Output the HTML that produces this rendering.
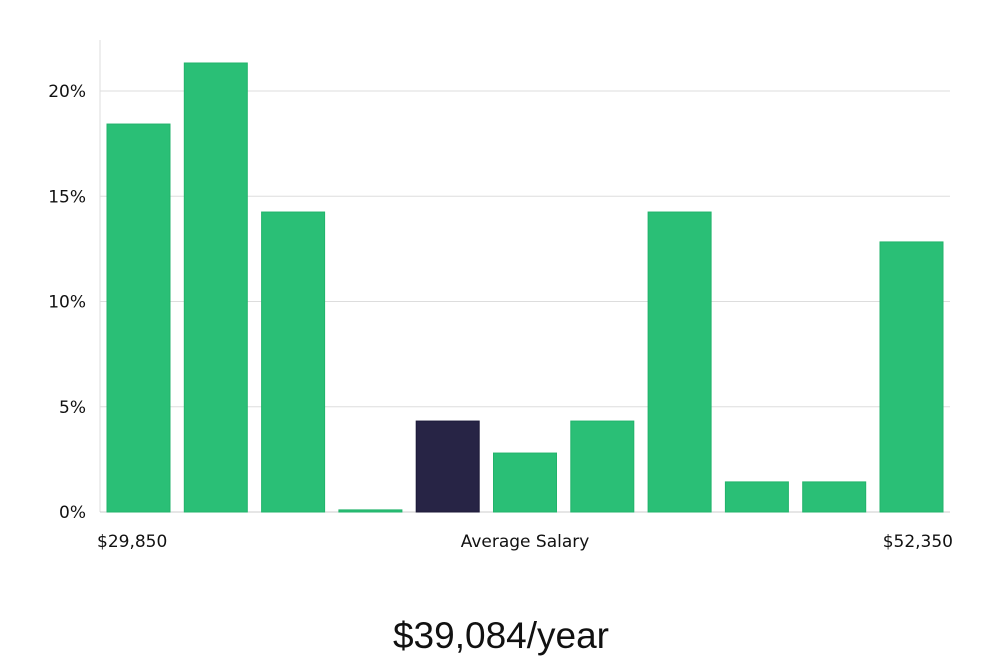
<!DOCTYPE html>
<html><head><meta charset="utf-8"><style>
body{margin:0;background:#fff;width:1000px;height:660px;overflow:hidden;font-family:"DejaVu Sans","Liberation Sans",sans-serif;}
</style></head><body>
<svg width="1000" height="660">
<g id="grid"></g><g id="bars"></g><g id="labels"></g>
<text x="501" y="648" text-anchor="middle" font-size="37" font-family="'Liberation Sans',sans-serif" font-weight="300" fill="#111">$39,084/year</text>
</svg>
<script>
const categories=["b1","b2","b3","b4","b5","b6","b7","b8","b9","b10","b11"];
const values=[18.43,21.33,14.25,0.1,4.32,2.8,4.32,14.25,1.43,1.43,12.83];
const highlight=[false,false,false,false,true,false,false,false,false,false,false];
const yTicks=[0,5,10,15,20];
const xLabels=["$29,850","Average Salary","$52,350"];
const NS="http://www.w3.org/2000/svg";
const x0=100,x1=950,y0=512,pxPer=21.05;
const y=v=>y0-v*pxPer;
const step=77.3,bw=63,bx0=107;
const xb=i=>bx0+i*step;
function mk(t,a,p){const e=document.createElementNS(NS,t);for(const k in a)e.setAttribute(k,a[k]);p.appendChild(e);return e;}
const g=document.getElementById('grid');
const ax=mk('line',{x1:x0,x2:x0,y1:40,y2:y0,stroke:'#ddd'},g);


yTicks.forEach(t=>{
 const l=mk('line',{x1:x0,x2:x1,y1:y(t),y2:y(t),stroke:t===0?'#ccc':'#ddd'},g);
 
 
 const tx=mk('text',{x:86,y:y(t)+6,'text-anchor':'end','font-size':'17',fill:'#111'},g);
 tx.textContent=t+'%';
 
 
});
const b=document.getElementById('bars');
values.forEach((v,i)=>{
 const r=mk('rect',{x:xb(i),y:y(v),width:bw,height:Math.max(1,y0-y(v)),fill:highlight[i]?'#272445':'#2abf76',stroke:highlight[i]?'#1c1a38':'#22b36b','stroke-width':1},b);
 
 
});
const lg=document.getElementById('labels');
[[97,'start'],[525,'middle'],[953,'end']].forEach((p,i)=>{
 const t=mk('text',{x:p[0],y:547,'text-anchor':p[1],'font-size':'17',fill:'#111'},lg);
 t.textContent=xLabels[i];
 
 
});
</script>
</body></html>
